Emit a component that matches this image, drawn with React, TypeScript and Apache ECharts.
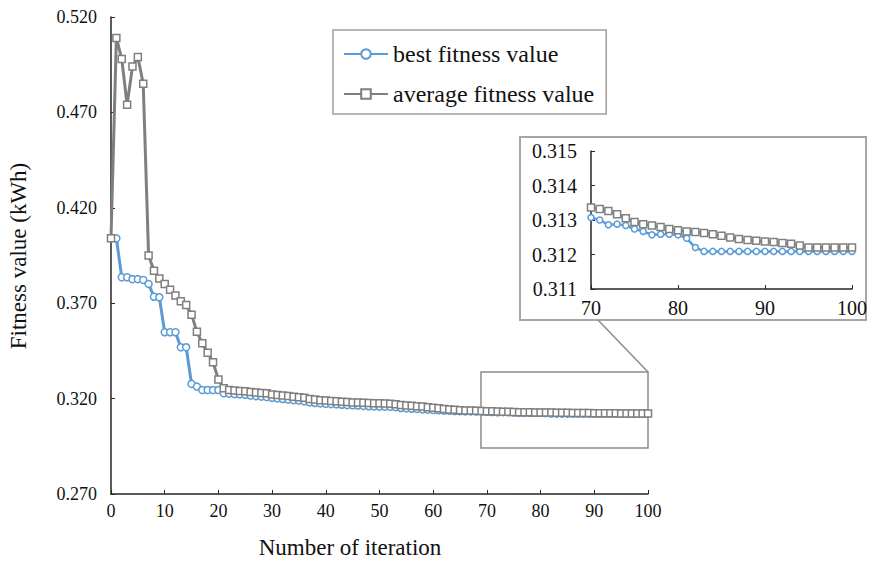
import React, { useEffect, useRef } from "react";
import * as echarts from "echarts";

const FONT = "'Liberation Serif', 'Times New Roman', serif";

// Fitness values per iteration (0..100)
const bestFitness = [
  0.404, 0.404, 0.3836, 0.3836, 0.3826, 0.3826, 0.3822, 0.3801, 0.3734, 0.3731,
  0.3548, 0.3548, 0.3548, 0.3469, 0.3469, 0.3277, 0.3263, 0.3245, 0.3245, 0.3245,
  0.3245, 0.3228, 0.3226, 0.3224, 0.3222, 0.322, 0.3216, 0.3213, 0.321, 0.3208,
  0.3204, 0.3201, 0.3198, 0.3195, 0.3192, 0.319, 0.3186, 0.318, 0.3177, 0.3175,
  0.3173, 0.3171, 0.317, 0.3168, 0.3166, 0.3165, 0.3164, 0.3162, 0.316, 0.3159,
  0.3158, 0.3158, 0.3157, 0.3155, 0.3151, 0.3149, 0.3147, 0.3146, 0.3144, 0.3142,
  0.314, 0.3139, 0.3137, 0.3136, 0.3135, 0.3134, 0.3133, 0.3133, 0.3132, 0.3132,
  0.31307, 0.313, 0.31286, 0.31288, 0.31284, 0.31274, 0.31267, 0.31257, 0.31259, 0.31259,
  0.31257, 0.31247, 0.3122, 0.31209, 0.31209, 0.31209, 0.31209, 0.31209, 0.31209, 0.31209,
  0.31209, 0.31209, 0.31209, 0.31209, 0.31209, 0.31209, 0.31209, 0.31209, 0.31209, 0.31209,
  0.31209,
];

const averageFitness = [
  0.404, 0.509, 0.498, 0.474, 0.494, 0.499, 0.485, 0.395, 0.387, 0.383,
  0.38, 0.377, 0.374, 0.371, 0.369, 0.364, 0.355, 0.349, 0.344, 0.339,
  0.33, 0.3254, 0.3245, 0.3242, 0.324, 0.3238, 0.3234, 0.3232, 0.323, 0.3228,
  0.3222, 0.3219, 0.3216, 0.3213, 0.321, 0.3207, 0.3204, 0.3198, 0.3195, 0.3192,
  0.319, 0.3188, 0.3186, 0.3184, 0.3182, 0.318, 0.3179, 0.3178, 0.3177, 0.3176,
  0.3175, 0.3174, 0.3173, 0.3171, 0.3166, 0.3164, 0.3162, 0.316, 0.3158, 0.3155,
  0.3152, 0.3149, 0.3146, 0.3143, 0.3141, 0.3139, 0.3138, 0.3137, 0.3136, 0.3135,
  0.31336, 0.31332, 0.31326, 0.31317, 0.31305, 0.31294, 0.31288, 0.31284, 0.3128, 0.31274,
  0.3127, 0.31267, 0.31265, 0.31262, 0.31259, 0.31254, 0.31249, 0.31245, 0.31242, 0.3124,
  0.31238, 0.31236, 0.31233, 0.31231, 0.31226, 0.3122, 0.3122, 0.3122, 0.3122, 0.3122,
  0.3122,
];

const INSET_START = 70;

const SERIES_BEST = "best fitness value";
const SERIES_AVG = "average fitness value";

const BLUE = "#5B9BD5";
const GREY = "#7F7F7F";
const AXIS = "#262626";

export default function App() {
  const ref = useRef<HTMLDivElement>(null);

  useEffect(() => {
    if (!ref.current) return;
    const chart = echarts.init(ref.current, undefined, { renderer: "svg" });

    const toPairs = (arr: number[], start: number) => arr.map((v, i) => [i + start, v]);
    const mainBest = toPairs(bestFitness, 0);
    const mainAvg = toPairs(averageFitness, 0);
    const insetBest = toPairs(bestFitness.slice(INSET_START), INSET_START);
    const insetAvg = toPairs(averageFitness.slice(INSET_START), INSET_START);

    const axisLabel = (size: number, margin: number, digits: number) => ({
      fontFamily: FONT,
      fontSize: size,
      color: "#111",
      margin,
      formatter: (v: number) => v.toFixed(digits),
    });

    chart.setOption({
      animation: false,
      backgroundColor: "#fff",
      grid: [
        { left: 111, right: 226, top: 17, bottom: 67 },
        { left: 591, right: 22, top: 151, bottom: 272 },
      ],
      xAxis: [
        {
          gridIndex: 0,
          type: "value",
          min: 0,
          max: 100,
          interval: 10,
          axisLine: { lineStyle: { color: AXIS, width: 1.5 } },
          axisTick: { show: true, inside: true, length: 4, lineStyle: { color: AXIS } },
          splitLine: { show: false },
          axisLabel: axisLabel(18, 8, 0),
        },
        {
          gridIndex: 1,
          type: "value",
          min: 70,
          max: 100,
          interval: 10,
          axisLine: { lineStyle: { color: AXIS, width: 1.5 } },
          axisTick: { show: true, inside: true, length: 4, lineStyle: { color: AXIS } },
          splitLine: { show: false },
          axisLabel: axisLabel(20, 9, 0),
        },
      ],
      yAxis: [
        {
          gridIndex: 0,
          type: "value",
          min: 0.27,
          max: 0.52,
          interval: 0.05,
          axisLine: { show: true, lineStyle: { color: AXIS, width: 1.5 } },
          axisTick: { show: true, inside: true, length: 4, lineStyle: { color: AXIS } },
          splitLine: { show: false },
          axisLabel: axisLabel(18, 14, 3),
        },
        {
          gridIndex: 1,
          type: "value",
          min: 0.311,
          max: 0.315,
          interval: 0.001,
          axisLine: { show: true, lineStyle: { color: AXIS, width: 1.5 } },
          axisTick: { show: true, inside: true, length: 4, lineStyle: { color: AXIS } },
          splitLine: { show: false },
          axisLabel: axisLabel(20, 14, 3),
        },
      ],
      legend: {
        left: 333,
        top: 30,
        orient: "vertical",
        borderColor: "#a0a0a0",
        borderWidth: 1.5,
        padding: [12, 12, 8, 10],
        itemGap: 16,
        itemWidth: 44,
        itemHeight: 12,
        textStyle: { fontFamily: FONT, fontSize: 24, color: "#111" },
        data: [SERIES_BEST, SERIES_AVG],
      },
      series: [
        {
          name: SERIES_BEST,
          type: "line",
          xAxisIndex: 0,
          yAxisIndex: 0,
          data: mainBest,
          showSymbol: true,
          showAllSymbol: true,
          symbol: "circle",
          symbolSize: 7,
          lineStyle: { color: BLUE, width: 3 },
          itemStyle: { color: "#fff", borderColor: BLUE, borderWidth: 1.5 },
          z: 2,
        },
        {
          name: SERIES_AVG,
          type: "line",
          xAxisIndex: 0,
          yAxisIndex: 0,
          data: mainAvg,
          showSymbol: true,
          showAllSymbol: true,
          symbol: "rect",
          symbolSize: 7,
          lineStyle: { color: GREY, width: 3 },
          itemStyle: { color: "#fff", borderColor: GREY, borderWidth: 1.5 },
          z: 3,
        },
        {
          name: SERIES_BEST,
          type: "line",
          xAxisIndex: 1,
          yAxisIndex: 1,
          data: insetBest,
          showSymbol: true,
          showAllSymbol: true,
          symbol: "circle",
          symbolSize: 6,
          lineStyle: { color: BLUE, width: 2.5 },
          itemStyle: { color: "#fff", borderColor: BLUE, borderWidth: 1.5 },
          z: 2,
        },
        {
          name: SERIES_AVG,
          type: "line",
          xAxisIndex: 1,
          yAxisIndex: 1,
          data: insetAvg,
          showSymbol: true,
          showAllSymbol: true,
          symbol: "rect",
          symbolSize: 7,
          lineStyle: { color: GREY, width: 2.5 },
          itemStyle: { color: "#fff", borderColor: GREY, borderWidth: 1.5 },
          z: 3,
        },
      ],
      graphic: [
        {
          type: "rect",
          z: 0,
          shape: { x: 520, y: 137, width: 346, height: 183 },
          style: { fill: "none", stroke: "#a6a6a6", lineWidth: 2 },
        },
        {
          type: "rect",
          z: 0,
          shape: { x: 481, y: 372, width: 167, height: 76 },
          style: { fill: "none", stroke: "#8c8c8c", lineWidth: 1.5 },
        },
        {
          type: "line",
          z: 0,
          shape: { x1: 648, y1: 372, x2: 598, y2: 320 },
          style: { stroke: "#8c8c8c", lineWidth: 1.5 },
        },
        {
          type: "text",
          x: 350,
          y: 547,
          style: {
            text: "Number of iteration",
            fontFamily: FONT,
            fontSize: 23,
            fill: "#111",
            align: "center",
            verticalAlign: "middle",
          },
        },
        {
          type: "text",
          x: 18,
          y: 256,
          rotation: Math.PI / 2,
          style: {
            text: "Fitness value (kWh)",
            fontFamily: FONT,
            fontSize: 23,
            fill: "#111",
            align: "center",
            verticalAlign: "middle",
          },
        },
      ],
    });

    return () => chart.dispose();
  }, []);

  return (
    <div
      ref={ref}
      style={{ position: "fixed", left: 0, top: 0, width: 874, height: 561, background: "#fff" }}
    />
  );
}
